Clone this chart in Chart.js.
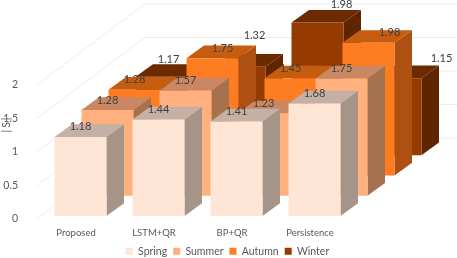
<!DOCTYPE html>
<html><head><meta charset="utf-8">
<style>html,body{margin:0;padding:0;background:#fff}canvas{display:block}</style>
<script src="https://cdn.jsdelivr.net/npm/chart.js@4"></script>
</head><body><canvas id="c" width="457" height="258"></canvas>
<script>
const categories = ['Proposed', 'LSTM+QR', 'BP+QR', 'Persistence'];
const spring = [1.18, 1.44, 1.41, 1.68];
const summer = [1.28, 1.57, 1.23, 1.75];
const autumn = [1.28, 1.75, 1.45, 1.98];
const winter = [1.17, 1.32, 1.98, 1.15];
const yTicks = [0, 0.5, 1, 1.5, 2];
const yTitle = '|S|';

const faces = [
  {front:'#FEE5D6', top:'#C4B0A4', side:'#A79488'},
  {front:'#FFB07E', top:'#C98763', side:'#A6714F'},
  {front:'#FE7C22', top:'#C55C10', side:'#AD5012'},
  {front:'#953B00', top:'#6B2A00', side:'#5F2500'}
];
const nudges = {'2,1':[10,0],'2,3':[21,0],'3,0':[7,-7],'3,1':[15,-21],'3,2':[24,-8],'3,3':[46,-10]};
const TEXT = '#595959';
const FONT = 'Lato, "Open Sans", sans-serif';
const STEP_X = 27, STEP_Y = 20.25, GAP_X = 4.5, GAP_Y = 3, SIDE_X = 17.5, SIDE_Y = 12.7;

function poly(ctx, pts, fill){
  ctx.beginPath();
  pts.forEach((p,i)=> i ? ctx.lineTo(p[0],p[1]) : ctx.moveTo(p[0],p[1]));
  ctx.closePath();
  ctx.fillStyle = fill;
  ctx.fill();
}

const box3d = {
  id:'box3d',
  beforeInit(chart){
    const legend = chart.legend, fit = legend.fit;
    legend.fit = function(){ fit.call(this); this.height = 18; };
  },
  afterLayout(chart){
    chart.legend.left = 0;
    chart.legend.right = chart.width - 2;
  },
  beforeDatasetsDraw(chart){
    const ctx = chart.ctx, ya = chart.scales.y, area = chart.chartArea;
    const nSeries = chart.data.datasets.length;
    const backX = STEP_X*nSeries, backY = STEP_Y*nSeries;
    ctx.save();
    ctx.strokeStyle = '#ECECEC';
    ctx.lineWidth = 1;
    ya.ticks.forEach(t=>{
      const y = ya.getPixelForValue(t.value);
      ctx.beginPath();
      ctx.moveTo(area.left, y);
      ctx.lineTo(area.left+backX, y-backY);
      ctx.lineTo(area.right+backX, y-backY);
      ctx.stroke();
    });
    for(let k=nSeries-1;k>=0;k--){
      const f = faces[k];
      const ox = GAP_X+STEP_X*k, oy = GAP_Y+STEP_Y*k;
      chart.getDatasetMeta(k).data.forEach(el=>{
        const l = el.x-el.width/2+ox, r = el.x+el.width/2+ox, t = el.y-oy, b = el.base-oy;
        poly(ctx,[[r,t],[r+SIDE_X,t-SIDE_Y],[r+SIDE_X,b-SIDE_Y],[r,b]],f.side);
        poly(ctx,[[l,t],[l+SIDE_X,t-SIDE_Y],[r+SIDE_X,t-SIDE_Y],[r,t]],f.top);
        poly(ctx,[[l,t],[r,t],[r,b],[l,b]],f.front);
      });
    }
    ctx.fillStyle = '#404040';
    ctx.font = '11px '+FONT;
    ctx.textAlign = 'center';
    ctx.textBaseline = 'middle';
    for(let k=0;k<nSeries;k++){
      const ox = GAP_X+STEP_X*k, oy = GAP_Y+STEP_Y*k;
      chart.getDatasetMeta(k).data.forEach((el,j)=>{
        const n = nudges[k+','+j] || [0,0];
        const v = chart.data.datasets[k].data[j];
        ctx.fillText(v.toFixed(2), el.x+ox+n[0], el.y-oy-10+n[1]);
      });
    }
    ctx.fillStyle = TEXT;
    ctx.font = '10.5px '+FONT;
    ctx.letterSpacing = '2px';
    ctx.translate(7, 124);
    ctx.rotate(-Math.PI/2);
    ctx.fillText(yTitle, 0, 0);
    ctx.restore();
    return false;
  }
};

const series = [['Spring',spring],['Summer',summer],['Autumn',autumn],['Winter',winter]];
new Chart(document.getElementById('c'),{
  type:'bar',
  data:{
    labels:categories,
    datasets:series.map((s,i)=>({label:s[0],data:s[1],backgroundColor:faces[i].front,grouped:false,barPercentage:2/3,categoryPercentage:1}))
  },
  options:{
    responsive:false,
    animation:false,
    layout:{padding:{top:85,right:108,left:0,bottom:0}},
    plugins:{
      tooltip:{enabled:false},
      legend:{
        position:'bottom',
        labels:{color:TEXT,font:{family:FONT,size:10.5},boxWidth:7,boxHeight:7,padding:6}
      }
    },
    scales:{
      x:{
        grid:{display:false},border:{display:false},
        afterFit(a){a.height=21;},
        ticks:{color:TEXT,font:{family:FONT,size:9.5},padding:0,maxRotation:0},
      },
      y:{
        min:0,max:2,
        afterBuildTicks(a){a.ticks=yTicks.map(v=>({value:v}));},
        afterFit(a){a.width=37;},
        grid:{display:false},border:{display:false},
        ticks:{color:TEXT,font:{family:FONT,size:10.5},padding:11,callback:v=>String(v)}
      }
    }
  },
  plugins:[box3d]
});
</script></body></html>
